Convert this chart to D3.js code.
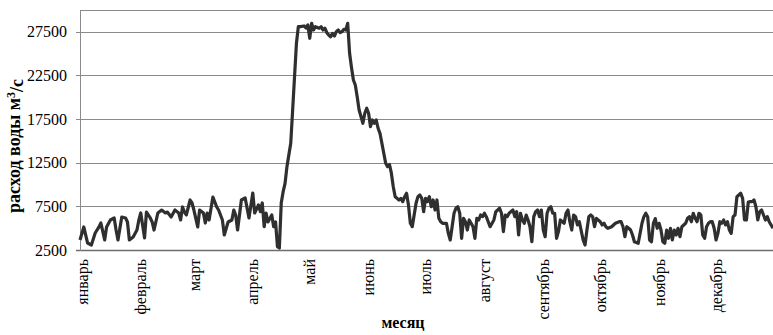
<!DOCTYPE html>
<html>
<head>
<meta charset="utf-8">
<script src="https://cdn.jsdelivr.net/npm/d3@7"></script>
<style>
  html, body { margin: 0; padding: 0; background: #fff; }
  svg { display: block; }
  text { font-family: "Liberation Serif", "DejaVu Serif", serif; fill: #000; }
</style>
</head>
<body>
<svg id="chart" width="773" height="335"></svg>
<script>
// Daily water discharge over a year (day of year, m³/s)
const days = [
  0,2,4,6,8,10,11,13,14,16,18,19,20,22,24,25,26,28,30,31,32,34,35,37,38,39,41,43,45,46,48,50,52,53,54,55,56,58,59,60,
  62,63,65,66,67,68,70,72,73,75,76,78,80,81,82,83,85,87,88,89,91,92,94,95,96,97,98,99,101,102,103,104,105,106,107,108,109,110,111,112,
  113,114,115,116,118,119,120,121,122,123,124,126,127,128,129,130,131,132,133,134,135,136,137,138,139,140,141,142,143,144,145,146,147,149,150,151,
  152,153,154,155,156,157,158,159,160,161,162,163,164,165,166,167,168,169,170,171,172,173,174,175,176,177,178,179,180,181,182,183,184,185,186,187,
  188,189,190,191,193,194,195,197,198,199,200,201,202,203,204,205,206,207,208,209,210,211,212,213,214,215,216,218,219,220,221,222,223,224,225,226,
  228,229,230,231,232,233,234,235,236,237,238,239,240,241,242,243,244,245,246,247,248,249,250,251,252,253,255,256,257,258,259,260,261,262,263,265,
  266,267,268,269,270,271,272,274,275,276,277,278,280,281,282,284,285,286,287,288,289,290,291,292,294,295,296,297,298,299,300,301,302,303,304,305,
  306,307,308,309,310,311,312,313,314,315,316,317,318,319,320,321,322,323,324,325,326,327,328,329,330,331,332,333,334,335,336,337,338,339,340,341,
  342,343,344,345,346,347,348,349,350,351,352,353,354,355,356,357,358,359,360,361,362,363,364,365
];
const flow = [
  3650,5140,3300,3070,4450,5140,5590,3650,5140,5940,6170,4790,3650,6280,6170,5710,3650,3990,4790,5940,6740,3880,6850,6170,5710,4790,6740,7080,6740,6850,6280,7080,6740,5940,7430,6850,6510,8230,7890,7080,
  5140,7080,6740,5590,6740,5940,8570,7430,7080,5940,4220,5710,5940,7080,6510,4790,8230,8460,7310,6170,9030,6740,7660,6890,7890,5170,6740,5710,6510,5170,5710,2880,2730,7900,9180,10140,12050,13400,14730,18540,
  22360,26190,28090,28090,28170,27940,28290,26760,28480,27710,28090,27910,28090,27710,27910,27400,27140,26940,27330,27020,27520,27710,27400,27520,27790,27710,28480,25040,23400,21980,21410,20070,18540,17020,18170,18740,
  18170,16630,17400,17020,17400,16450,15870,14730,13580,12440,12050,12300,11300,9750,8610,8420,8230,8420,8040,8610,9000,7660,5560,5170,6510,7850,8610,8800,8420,6890,8420,8040,8610,7460,8230,7080,
  8230,6130,5740,5560,5560,4410,3650,6710,7280,7460,6710,3840,6130,5740,4790,5940,5560,5170,3840,6130,5940,6510,6320,6710,6320,5740,5170,5940,6890,7080,7280,6710,4600,6510,6320,6710,
  7080,6320,6890,4220,6710,5940,5560,6510,5940,5170,3450,6320,6890,7080,6320,7080,4790,4020,6710,7280,7460,6710,6710,3840,4600,5940,5560,6710,7080,5740,4790,6510,6320,5370,5740,3650,
  3070,4790,6320,6510,6320,5170,6130,5740,5370,5560,5170,4990,5170,5370,5560,5740,5740,5170,4020,5170,4990,4790,4220,3450,3270,4410,5560,6320,6710,6320,3650,3450,5560,6100,4990,5560,
  4790,3450,3270,4790,3840,4990,3650,4790,4220,4990,4020,5170,5370,5560,6130,6320,5740,6710,6130,5740,6710,6510,4220,3840,5170,5560,5740,5740,4990,3650,4410,5740,5560,5940,5370,5740,
  4790,4410,6320,6510,8610,8800,9000,8420,5940,5940,8000,8040,8040,8230,7460,5940,6890,7080,6510,5940,6320,5740,5370,4990
];
const monthNames = ["январь","февраль","март","апрель","май","июнь","июль","август","сентябрь","октябрь","ноябрь","декабрь"];
const monthStartDays = [0,31,59,90,120,151,181,212,243,273,304,334];
const yTicks = [2500, 7500, 12500, 17500, 22500, 27500];
const yMax = 30000;

const svg = d3.select("#chart");
const plot = { left: 80, right: 773, top: 10, bottom: 250 };

const x = d3.scaleLinear().domain([0, 365]).range([plot.left, plot.right]);
const y = d3.scaleLinear().domain([yTicks[0], yMax]).range([plot.bottom, plot.top]);

// Horizontal grid lines plus the top frame line
const gridColor = "#8a8a8a";
svg.append("g")
  .selectAll("line")
  .data(yTicks.concat([yMax]))
  .join("line")
  .attr("x1", d => d === yMax ? plot.left : plot.left - 4)
  .attr("x2", plot.right)
  .attr("y1", d => Math.round(y(d)) + 0.5)
  .attr("y2", d => Math.round(y(d)) + 0.5)
  .attr("stroke", d => d === yTicks[0] ? "#6e6e6e" : gridColor)
  .attr("stroke-width", d => d === yTicks[0] ? 1.5 : 1);

// Left axis line
svg.append("line")
  .attr("x1", plot.left + 0.5).attr("x2", plot.left + 0.5)
  .attr("y1", plot.top).attr("y2", plot.bottom + 1)
  .attr("stroke", gridColor).attr("stroke-width", 1);

// Y tick labels
svg.append("g")
  .selectAll("text")
  .data(yTicks)
  .join("text")
  .attr("x", 67)
  .attr("y", d => y(d))
  .attr("dy", "0.35em")
  .attr("text-anchor", "end")
  .style("font-size", "16px")
  .text(d => d);

// Month labels, rotated
svg.append("g")
  .selectAll("text")
  .data(monthNames)
  .join("text")
  .attr("transform", (d, i) => `translate(${x(monthStartDays[i]) + 2},259) rotate(-90)`)
  .attr("dy", "0.35em")
  .attr("text-anchor", "end")
  .style("font-size", "16px")
  .text(d => d);

// Discharge line
const line = d3.line()
  .x((d, i) => x(days[i]))
  .y(d => y(d))
  .curve(d3.curveLinear);

svg.append("path")
  .datum(flow)
  .attr("d", line)
  .attr("fill", "none")
  .attr("stroke", "#2f2f2f")
  .attr("stroke-width", 3.2)
  .attr("stroke-linejoin", "round");

// Axis titles
const yTitle = svg.append("text")
  .attr("transform", "translate(20,146) rotate(-90)")
  .attr("text-anchor", "middle")
  .style("font-size", "18px")
  .style("font-weight", "bold");
yTitle.append("tspan").text("расход воды  м");
yTitle.append("tspan").attr("dy", "-0.45em").style("font-size", "12px").text("3");
yTitle.append("tspan").attr("dy", "0.45em").text("/с");

svg.append("text")
  .attr("x", 403)
  .attr("y", 328)
  .attr("text-anchor", "middle")
  .style("font-size", "16px")
  .style("font-weight", "bold")
  .text("месяц");
</script>
</body>
</html>
